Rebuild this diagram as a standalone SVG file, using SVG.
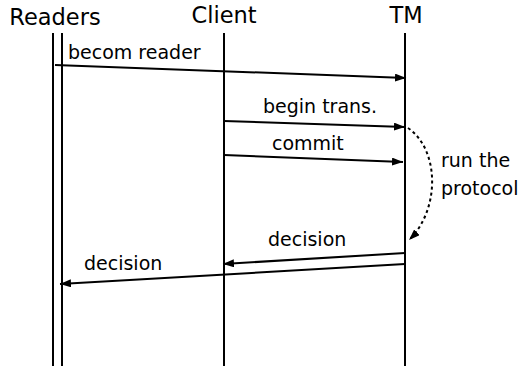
<svg xmlns="http://www.w3.org/2000/svg" width="520" height="366" viewBox="0 0 520 366">
  <style>
    .title { font-family: "DejaVu Sans", sans-serif; font-size: 22.5px; fill: #000; text-anchor: middle; }
    .lbl { font-family: "DejaVu Sans", sans-serif; font-size: 19px; fill: #000; }
    .life { stroke: #000; stroke-width: 2; fill: none; }
    .msg { stroke: #000; stroke-width: 2; fill: none; marker-end: url(#arrow); }
    .dash { stroke: #000; stroke-width: 2; fill: none; stroke-dasharray: 3 3; marker-end: url(#arrow); }
  </style>
  <defs>
    <marker id="arrow" viewBox="0 0 11 8" refX="11" refY="4" markerWidth="11" markerHeight="8" markerUnits="userSpaceOnUse" orient="auto">
      <path d="M0,0 L11,4 L0,8 Z" fill="#000"/>
    </marker>
  </defs>
  <rect width="520" height="366" fill="#fff"/>

  <g id="readers">
    <text class="title" x="55" y="25">Readers</text>
    <line class="life" x1="53" y1="33" x2="53" y2="366"/>
    <line class="life" x1="62" y1="33" x2="62" y2="366"/>
  </g>
  <g id="client">
    <text class="title" x="224" y="23">Client</text>
    <line class="life" x1="224" y1="33" x2="224" y2="366"/>
  </g>
  <g id="tm">
    <text class="title" x="406" y="23">TM</text>
    <line class="life" x1="405" y1="33" x2="405" y2="366"/>
  </g>

  <g id="connectors">
    <line class="msg" x1="55" y1="65" x2="406" y2="78"/>
    <text class="lbl" x="68" y="59">becom reader</text>

    <line class="msg" x1="224" y1="121" x2="405" y2="127"/>
    <text class="lbl" x="263" y="113">begin trans.</text>

    <line class="msg" x1="224" y1="155" x2="403" y2="162"/>
    <text class="lbl" x="272" y="150">commit</text>

    <path class="dash" d="M408,128 C440,150 440,210 409,240"/>
    <text class="lbl" x="441" y="167">run the</text>
    <text class="lbl" x="441" y="195">protocol</text>

    <line class="msg" x1="405" y1="253" x2="223" y2="264"/>
    <text class="lbl" x="268" y="246">decision</text>

    <line class="msg" x1="405" y1="264" x2="60" y2="284"/>
    <text class="lbl" x="84" y="270">decision</text>
  </g>
</svg>
